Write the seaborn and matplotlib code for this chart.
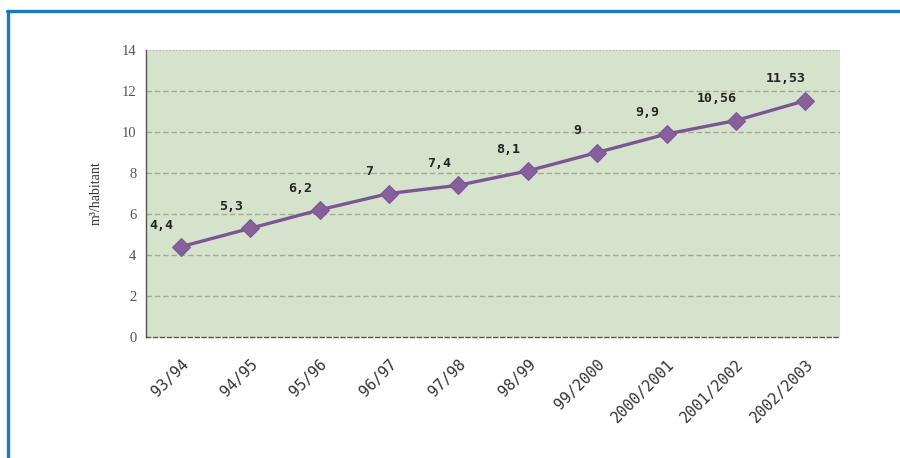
import matplotlib
matplotlib.use("Agg")
import matplotlib.pyplot as plt
from matplotlib.lines import Line2D
import seaborn as sns
import pandas as pd

periods = ["93/94", "94/95", "95/96", "96/97", "97/98", "98/99",
           "99/2000", "2000/2001", "2001/2002", "2002/2003"]
values = [4.4, 5.3, 6.2, 7.0, 7.4, 8.1, 9.0, 9.9, 10.56, 11.53]
value_labels = ["4,4", "5,3", "6,2", "7", "7,4", "8,1", "9", "9,9", "10,56", "11,53"]
y_ticks = [0, 2, 4, 6, 8, 10, 12, 14]

df = pd.DataFrame({"period": periods, "value": values})
df["x"] = range(len(periods))

sns.set_theme(style="white")
plt.rcParams["font.family"] = ["Liberation Serif", "DejaVu Serif"]

fig = plt.figure(figsize=(9, 4.58), dpi=100)
ax = fig.add_axes([146/900, 1-337/458, 694/900, 287/458])
ax.set_facecolor("#d6e3cc")

sns.lineplot(data=df, x="x", y="value", ax=ax, color="#7d5592", linewidth=2.4,
             marker="D", markersize=9, markeredgecolor="#7d5592",
             markerfacecolor="#86609a", zorder=3)

for xi, v, lab in zip(df["x"], values, value_labels):
    ax.annotate(lab, (xi, v), xytext=(-14, 11), textcoords="offset points",
                ha="center", va="bottom", fontsize=9.5, fontweight="bold",
                color="#222222", family=["DejaVu Sans Mono"])

ax.set_xlim(-0.5, len(periods) - 0.5)
ax.set_ylim(0, 14)
ax.set_yticks(y_ticks)
ax.set_yticklabels([str(t) for t in y_ticks], fontsize=10.5, color="#555555")
ax.set_xticks(list(df["x"]))
ax.set_xticklabels(periods, rotation=45, ha="right", rotation_mode="anchor",
                   fontsize=11, color="#333333", family=["DejaVu Sans Mono"])
ax.tick_params(axis="y", length=3, width=0.8, color="#333333", pad=4)
ax.tick_params(axis="x", length=0, pad=14)

for t in y_ticks[1:-1]:
    ax.axhline(t, color="#a4a892", linewidth=1.0, linestyle=(0, (4, 2)), zorder=1)
ax.axhline(14, color="#b8a99a", linewidth=1.2, linestyle=(0, (1, 1)), zorder=1)

ax.set_xlabel("")
ax.set_ylabel("m³/habitant", fontsize=10, color="#333333", labelpad=14)

for side in ["top", "right"]:
    ax.spines[side].set_visible(False)
ax.spines["left"].set_color("#555555")
ax.spines["left"].set_linestyle((0, (1, 1)))
ax.spines["left"].set_linewidth(1)
ax.spines["bottom"].set_color("#555555")
ax.spines["bottom"].set_linestyle((0, (3, 2)))
ax.spines["bottom"].set_linewidth(1)

# blue frame
blue = "#1a78c2"
fig.add_artist(Line2D([7/900, 1], [1-11/458, 1-11/458], transform=fig.transFigure,
                      color=blue, linewidth=2.4))
fig.add_artist(Line2D([8/900, 8/900], [0, 1-11/458], transform=fig.transFigure,
                      color=blue, linewidth=2.4))

fig.savefig("out.png", dpi=100)
